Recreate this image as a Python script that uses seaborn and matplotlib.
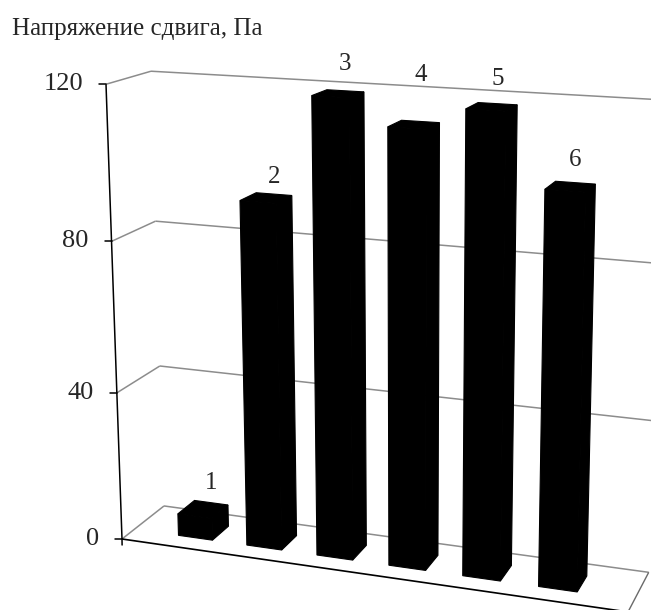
import numpy as np
import pandas as pd
import matplotlib
matplotlib.use("Agg")
import matplotlib.pyplot as plt
import seaborn as sns
from matplotlib.transforms import Transform
from matplotlib.patches import Polygon

# ---- data -------------------------------------------------------------
samples = ["1", "2", "3", "4", "5", "6"]
shear_stress = [6, 91.5, 119, 112.5, 118, 100]
y_ticks = [0, 40, 80, 120]
y_title = "Напряжение сдвига, Па"

# vertical lift (px) of each sample label above the back edge of its bar top
label_lift = [20, 17, 27, 46, 25, 23]

# ---- perspective camera (3-point perspective, output in pixels) ---------
VP_CAT = np.array([-5204.0, -229.0, 1.0])    # vanishing point along categories
VP_VAL = np.array([409.0, 8697.0, 1.0])      # vanishing point of verticals
VP_DEPTH = np.array([1046.0, -188.0, 1.0])   # vanishing point into depth
FLOOR_CORNER = np.array([122.0, 539.0, 1.0]) # front-left floor corner
CAT_STEP = -0.01446 * 0.872
VAL_STEP = -0.00044
DEPTH_STEP = 0.04762
X_LEFT, X_RIGHT = -0.906, 5.975              # side walls, category units
Y_MAX = 120
Z_FRONT, Z_BACK = 0.29, 0.70                 # bar depth span (0 front .. 1 back)


def project(x, y, z):
    x = np.asarray(x, float)
    y = np.asarray(y, float)
    z = np.asarray(z, float)
    h = (CAT_STEP * (x - X_LEFT))[..., None] * VP_CAT \
        + (VAL_STEP * y)[..., None] * VP_VAL \
        + (DEPTH_STEP * z)[..., None] * VP_DEPTH + FLOOR_CORNER
    return h[..., 0] / h[..., 2], h[..., 1] / h[..., 2]


class PlaneProjection(Transform):
    """Maps (category, value) on a plane of constant depth to pixels."""
    input_dims = output_dims = 2
    is_separable = False
    has_inverse = False

    def __init__(self, plane_depth):
        super().__init__()
        self.plane_depth = plane_depth

    def transform_non_affine(self, values):
        v = np.asarray(values, float)
        px, py = project(v[:, 0], v[:, 1], np.full(len(v), self.plane_depth))
        return np.column_stack([px, py])


# ---- figure -----------------------------------------------------------
sns.set_style("white")
plt.rcParams["font.family"] = ["Liberation Serif", "DejaVu Serif"]

W, H = 651, 610
fig = plt.figure(figsize=(W / 100, H / 100), dpi=100)
ax = fig.add_axes([0, 0, 1, 1])

df = pd.DataFrame({"sample": samples, "stress": shear_stress})
sns.barplot(data=df, x="sample", y="stress", color="black", saturation=1,
            width=0.5, errorbar=None, ax=ax, zorder=3,
            edgecolor="black", linewidth=0.8)

front = PlaneProjection(Z_FRONT)
grid_c = "#8c8c8c"


def seg(p, q, **kw):
    xs, ys = project([p[0], q[0]], [p[1], q[1]], [p[2], q[2]])
    ax.plot(xs, ys, solid_capstyle="butt", **kw)


# back wall and left wall gridlines
for t in y_ticks:
    seg((X_LEFT, t, 1), (X_RIGHT, t, 1), color=grid_c, lw=1.1, zorder=1)
    seg((X_LEFT, t, 0), (X_LEFT, t, 1), color=grid_c, lw=1.1, zorder=1)
# floor right edge and front edge
seg((X_RIGHT, 0, 0), (X_RIGHT, 0, 1), color="#6a6a6a", lw=1.0, zorder=1)
seg((X_LEFT, 0, 0), (X_RIGHT, 0, 0), color="black", lw=1.2, zorder=2)

# value axis with ticks
seg((X_LEFT, 0, 0), (X_LEFT, Y_MAX, 0), color="black", lw=1.1, zorder=2)
ax0x, ax0y = project(X_LEFT, 0, 0)
ax.plot([ax0x, ax0x + 0.1], [ax0y, ax0y + 6], color="black", lw=1.1, zorder=2)
for t in y_ticks:
    tx, ty = project(X_LEFT, t, 0)
    ax.plot([tx - 7, tx], [ty, ty], color="black", lw=1.1, zorder=2)
    ax.text(tx - 23, ty, f"{t}", ha="right", va="center", fontsize=19)

# bars: front faces from seaborn, sides and tops from the same geometry
for i, p in enumerate(ax.patches):
    p.set_transform(front + ax.transData)
    x0, w, h = p.get_x(), p.get_width(), p.get_height()
    x1 = x0 + w
    sx, sy = project([x1, x1, x1, x1], [0, h, h, 0],
                     [Z_FRONT, Z_FRONT, Z_BACK, Z_BACK])
    ax.add_patch(Polygon(np.column_stack([sx, sy]), closed=True,
                         facecolor="black", edgecolor="black", lw=0.8,
                         zorder=3))
    tx_, ty_ = project([x0, x1, x1, x0], [h, h, h, h],
                       [Z_FRONT, Z_FRONT, Z_BACK, Z_BACK])
    ax.add_patch(Polygon(np.column_stack([tx_, ty_]), closed=True,
                         facecolor="black", edgecolor="black", lw=0.8,
                         zorder=3))
    lx, ly = project(x0 + w / 2, h, Z_BACK)
    ax.text(lx, ly - label_lift[i], samples[i], ha="center", va="center",
            fontsize=18, zorder=4)

ax.text(12, 29, y_title, ha="left", va="center", fontsize=18)

ax.set_xlim(0, W)
ax.set_ylim(H, 0)
ax.axis("off")

fig.savefig("out.png", dpi=100)
